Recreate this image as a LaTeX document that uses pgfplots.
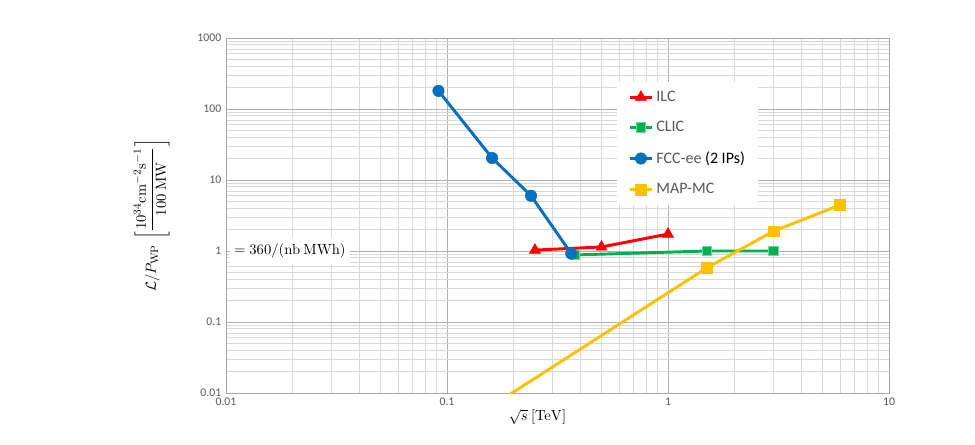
\documentclass[border=0pt]{standalone}
\usepackage{amsmath}
\usepackage[no-math]{fontspec}
\setmainfont{Carlito}
\usepackage{pgfplots}
\pgfplotsset{compat=1.18}

\definecolor{ilc}{HTML}{FF0000}
\definecolor{clic}{HTML}{00B050}
\definecolor{fcc}{HTML}{0070C0}
\definecolor{mapmc}{HTML}{FFC000}
\definecolor{txtgray}{HTML}{595959}

\begin{document}
\begin{tikzpicture}
% picture frame, 1 px = 0.75pt
\useasboundingbox (-169.5pt,-38.25pt) rectangle (561.75pt,294.75pt);
\begin{axis}[
    at={(0,0)}, anchor=south west,
    scale only axis,
    width=497.25pt, height=266.25pt,
    xmode=log, ymode=log,
    xmin=0.01, xmax=10, ymin=0.01, ymax=1000,
    xtick={0.01,0.1,1,10}, xticklabels={0.01,0.1,1,10},
    ytick={0.01,0.1,1,10,100,1000}, yticklabels={0.01,0.1,1,10,100,1000},
    ticklabel style={font=\fontsize{8.8}{10}\selectfont, text=txtgray},
    tick style={draw=none},
    grid=both,
    major grid style={draw=black!30, line width=0.6pt},
    minor grid style={draw=black!15, line width=0.6pt},
    axis line style={draw=black!35, line width=0.6pt},
    xlabel={$\sqrt{s}\ [\mathrm{TeV}]$},
    xlabel style={font=\fontsize{11}{13}\selectfont, xshift=-15pt, yshift=4pt},
    ylabel={$\mathcal{L}/P_{\mathrm{WP}}\ \left[\dfrac{10^{34}\mathrm{cm}^{-2}\mathrm{s}^{-1}}{100\ \mathrm{MW}}\right]$},
    ylabel style={font=\fontsize{11}{13}\selectfont, yshift=14pt},
    legend style={at={(0.59,0.878)}, anchor=north west, draw=none, fill=white,
        font=\fontsize{12}{14}\selectfont, text=txtgray,
        row sep=9.5pt, inner xsep=8pt, inner ysep=5pt},
    legend cell align=left,
    every axis plot/.append style={line width=2.2pt},
]
\addplot[ilc, mark=triangle*, mark size=4.8pt, mark options={solid, line width=0.4pt}]
    coordinates {(0.25,1.03) (0.5,1.14) (1.0,1.73)};
\addlegendentry{ILC}
\addplot[clic, mark=square*, mark size=3.5pt, mark options={fill=clic, draw=clic!55, line width=0.9pt}]
    coordinates {(0.38,0.88) (1.5,1.0) (3.0,1.0)};
\addlegendentry{CLIC}
\addplot[fcc, mark=*, mark size=4.3pt, mark options={line width=0.4pt}]
    coordinates {(0.0915,180) (0.16,20.4) (0.24,6.0) (0.365,0.92)};
\addlegendentry{FCC-ee \textcolor{black}{(2 IPs)}}
\addplot[mapmc, mark=square*, mark size=4pt, mark options={line width=0.4pt}]
    coordinates {(0.126,0.0041) (1.5,0.58) (3.0,1.9) (6.0,4.45)};
\addlegendentry{MAP-MC}

\node[anchor=west, fill=white, inner xsep=3pt, inner ysep=4pt,
      font=\fontsize{11}{13}\selectfont]
    at (axis cs:0.0104,1) {$=360/(\mathrm{nb}\ \mathrm{MWh})$};
\end{axis}
\end{tikzpicture}
\end{document}
